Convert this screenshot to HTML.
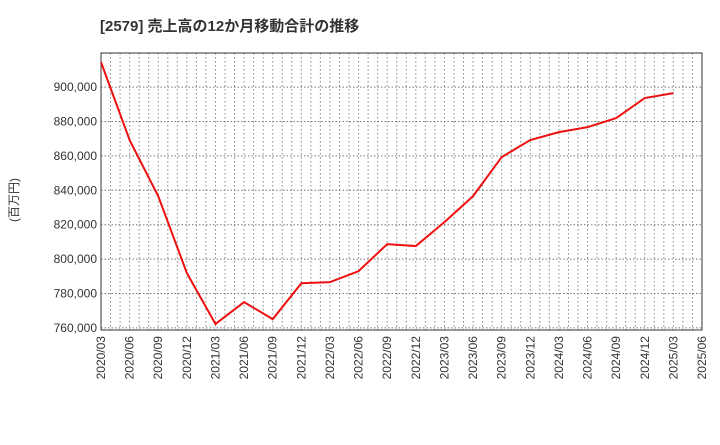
<!DOCTYPE html>
<html><head><meta charset="utf-8"><style>
body{margin:0;background:#fff;font-family:"Liberation Sans","Noto Sans CJK JP",sans-serif;}
</style></head><body>
<svg id="c" width="720" height="440" xmlns="http://www.w3.org/2000/svg">
<text x="100" y="31" font-size="15" font-weight="bold" fill="#333" font-family="Liberation Sans,Noto Sans CJK JP,sans-serif">[2579]  売上高の12か月移動合計の推移</text>
<text transform="translate(18,200) rotate(-90)" font-size="12" fill="#333" text-anchor="middle" font-family="Liberation Sans,Noto Sans CJK JP,sans-serif">(百万円)</text>
<g id="grid"></g><g id="axes"></g><g id="series"></g>
</svg>
<script>
const categories=["2020/03","2020/06","2020/09","2020/12","2021/03","2021/06","2021/09","2021/12","2022/03","2022/06","2022/09","2022/12","2023/03","2023/06","2023/09","2023/12","2024/03","2024/06","2024/09","2024/12","2025/03"];
const values=[914500,869200,836600,791900,762300,775000,765100,786000,786600,793000,808700,807600,821500,836600,859300,869200,873800,876700,882000,893600,896500];
const xLabels=["2020/03","2020/06","2020/09","2020/12","2021/03","2021/06","2021/09","2021/12","2022/03","2022/06","2022/09","2022/12","2023/03","2023/06","2023/09","2023/12","2024/03","2024/06","2024/09","2024/12","2025/03","2025/06"];
const yTicks=[760000,780000,800000,820000,840000,860000,880000,900000];
const L=101,R=702,T=53,B=330,NS="http://www.w3.org/2000/svg";
const yMin=758800,yMax=919800;
const x=i=>L+(R-L)*i/(xLabels.length-1);
const y=v=>B-(v-yMin)/(yMax-yMin)*(B-T);
function mk(t,a,p){const e=document.createElementNS(NS,t);for(const k in a)e.setAttribute(k,a[k]);p.appendChild(e);return e;}
const g=document.getElementById('grid'),ax=document.getElementById('axes'),s=document.getElementById('series');
const nm=(xLabels.length-1)*3;
for(let m=1;m<nm;m++){const xx=L+(R-L)*m/nm;const e=mk('line',{x1:xx,x2:xx,y1:T,y2:B,stroke:'#888','stroke-dasharray':'1.5,2.5','stroke-width':1},g);

}
yTicks.forEach(v=>{const e=mk('line',{x1:L,x2:R,y1:y(v),y2:y(v),stroke:'#777','stroke-dasharray':'1.5,2','stroke-width':1},g);


const t=mk('text',{x:L-4,y:y(v)+4,'font-size':12,'text-anchor':'end',fill:'#333'},ax);t.textContent=v.toLocaleString('en-US');

});
xLabels.forEach((c,i)=>{const t=mk('text',{transform:`translate(${x(i)+4},${B+6}) rotate(-90)`,'font-size':12,'text-anchor':'end',fill:'#333'},ax);t.textContent=c;

});
const fr=mk('rect',{x:L,y:T,width:R-L,height:B-T,fill:'none',stroke:'#333','stroke-width':1},ax);


const pl=mk('polyline',{points:values.map((v,i)=>x(i)+','+y(v)).join(' '),fill:'none',stroke:'#ee1111','stroke-width':2},s);


</script>
</body></html>
